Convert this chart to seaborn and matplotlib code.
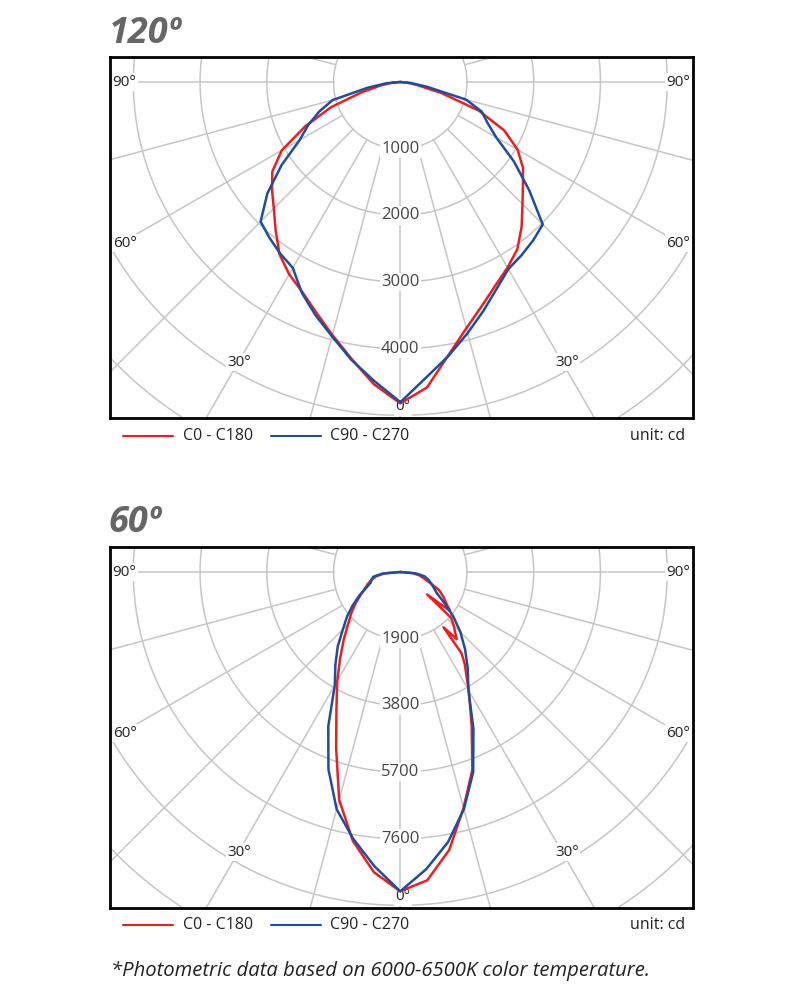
import numpy as np
import pandas as pd
import seaborn as sns
import matplotlib.pyplot as plt
from matplotlib.lines import Line2D

# gamma angles from nadir (deg); left half = C180 / C270, right half = C0 / C90
angles = [0, 5, 10, 15, 20, 25, 30, 35, 40, 45, 50, 55, 60, 65, 70, 75, 80, 85, 90]

# 120º beam (cd)
top_red_left = [4820, 4550, 4215, 3930, 3680, 3475, 3330, 3155, 2905, 2680,
                2510, 2340, 2050, 1570, 1100, 600, 300, 120, 0]
top_red_right = [4820, 4600, 4160, 3825, 3575, 3370, 3215, 3060, 2830, 2590,
                 2400, 2245, 2030, 1720, 1250, 640, 250, 100, 0]
top_blue_left = [4800, 4500, 4230, 3950, 3720, 3490, 3220, 3140, 3050, 2960,
                 2600, 2170, 1740, 1520, 1290, 1050, 500, 200, 0]
top_blue_right = [4805, 4450, 4170, 3900, 3650, 3420, 3240, 3170, 3100, 3020,
                  2520, 2080, 1660, 1440, 1300, 1020, 400, 150, 0]
top_rings = [1000, 2000, 3000, 4000]

# 60º beam (cd)
bot_red_left = [9100, 8590, 7780, 6720, 5340, 4300, 3590, 2980, 2500, 2100,
                1820, 1550, 1300, 1110, 980, 830, 700, 450, 0]
bot_red_right_angles = [0, 5, 10, 15, 20, 25, 30, 35, 37, 38, 40, 45, 48, 50,
                        52, 55, 60, 65, 70, 75, 80, 85, 90]
bot_red_right = [9100, 8820, 8040, 6960, 6000, 4810, 3900, 3200, 2900, 2000,
                 2500, 2150, 1950, 1000, 1800, 1620, 1420, 1220, 900, 700,
                 550, 350, 0]
bot_blue_left = [9100, 8420, 7720, 7000, 5980, 4850, 3730, 3220, 2770, 2310,
                 1980, 1650, 1350, 1070, 900, 850, 780, 500, 0]
bot_blue_right = [9100, 8500, 7820, 7000, 6070, 4930, 3880, 3350, 2870, 2420,
                  1970, 1530, 1200, 1050, 930, 820, 700, 450, 0]
bot_rings = [1900, 3800, 5700, 7600]

deg_labels = ["0°", "30°", "60°", "90°"]
series_names = ["C0 - C180", "C90 - C270"]
RED = "#f21c1c"
BLUE = "#1c4ea3"
GRID = "#c6c6c6"

sns.set_theme(style="white")
plt.rcParams['font.family'] = ['Open Sans', 'DejaVu Sans']


def to_xy(ang_l, cd_l, ang_r, cd_r, step):
    # left half drawn from 90 down to 0, then right half 0 -> 90
    a = np.r_[-np.array(ang_l[::-1], float), np.array(ang_r, float)]
    r = np.r_[np.array(cd_l[::-1], float), np.array(cd_r, float)] / step
    t = np.deg2rad(a)
    return pd.DataFrame({"x": r * np.sin(t), "y": -r * np.cos(t)})


def draw_chart(ax, rings, curves):
    step = rings[0]
    t = np.linspace(0, 2 * np.pi, 721)
    for k in range(1, 9):
        ax.plot(k * np.cos(t), k * np.sin(t), color=GRID, lw=1.1, zorder=1)
    for a in range(0, 360, 15):
        th = np.deg2rad(a)
        ax.plot([np.sin(th), 9 * np.sin(th)], [-np.cos(th), -9 * np.cos(th)],
                color=GRID, lw=1.1, zorder=1)
    for (ang_l, cd_l, ang_r, cd_r), col in curves:
        df = to_xy(ang_l, cd_l, ang_r, cd_r, step)
        sns.lineplot(data=df, x="x", y="y", sort=False, estimator=None,
                     color=col, lw=1.8, ax=ax, zorder=3)
    bb = dict(facecolor="white", edgecolor="none", pad=1.0)
    for k, v in enumerate(rings, start=1):
        ax.text(0, -k, str(v), ha="center", va="center", fontsize=12,
                color="#444444", bbox=bb, zorder=2)
    # degree labels: (text, x, y) in ring units
    spots = [(deg_labels[0], 0.04, -4.87),
             (deg_labels[1], -2.42, -4.2), (deg_labels[1], 2.5, -4.2),
             (deg_labels[2], -4.13, -2.42), (deg_labels[2], 4.17, -2.42),
             (deg_labels[3], -4.13, 0.0), (deg_labels[3], 4.17, 0.0)]
    for s, x, y in spots:
        ax.text(x, y, s, ha="center", va="center", fontsize=11,
                color="#222222", bbox=bb, zorder=2)
    ax.set_xlim(-4.35, 4.39)
    ax.set_ylim(-5.04, 0.375)
    ax.set_xticks([])
    ax.set_yticks([])
    ax.set_xlabel("")
    ax.set_ylabel("")
    for s in ax.spines.values():
        s.set_visible(True)
        s.set_color("black")
        s.set_linewidth(2)
        s.set_zorder(5)


def draw_legend(fig, y):
    fig.add_artist(Line2D([0.154, 0.216], [y, y], color=RED, lw=1.5))
    fig.text(0.229, y, series_names[0], va="center", fontsize=11.5, color="#222222")
    fig.add_artist(Line2D([0.339, 0.401], [y, y], color=BLUE, lw=1.5))
    fig.text(0.4125, y, series_names[1], va="center", fontsize=11.5, color="#222222")
    fig.text(0.857, y, "unit: cd", va="center", ha="right", fontsize=11.5,
             color="#222222")


fig = plt.figure(figsize=(8, 10), dpi=100)
ax_top = fig.add_axes([0.1375, 0.582, 0.729, 0.361])
ax_bot = fig.add_axes([0.1375, 0.092, 0.729, 0.361])

draw_chart(ax_top, top_rings, [
    ((angles, top_red_left, angles, top_red_right), RED),
    ((angles, top_blue_left, angles, top_blue_right), BLUE),
])
draw_chart(ax_bot, bot_rings, [
    ((angles, bot_red_left, bot_red_right_angles, bot_red_right), RED),
    ((angles, bot_blue_left, angles, bot_blue_right), BLUE),
])

fig.text(0.136, 0.957, "120º", fontsize=26, fontweight="bold", style="italic",
         color="#666666", va="baseline")
fig.text(0.136, 0.468, "60º", fontsize=26, fontweight="bold", style="italic",
         color="#666666", va="baseline")
draw_legend(fig, 0.564)
draw_legend(fig, 0.075)
fig.text(0.139, 0.024, "*Photometric data based on 6000-6500K color temperature.",
         fontsize=14.6, style="italic", color="#222222", va="baseline")

fig.savefig("out.png", dpi=100)
